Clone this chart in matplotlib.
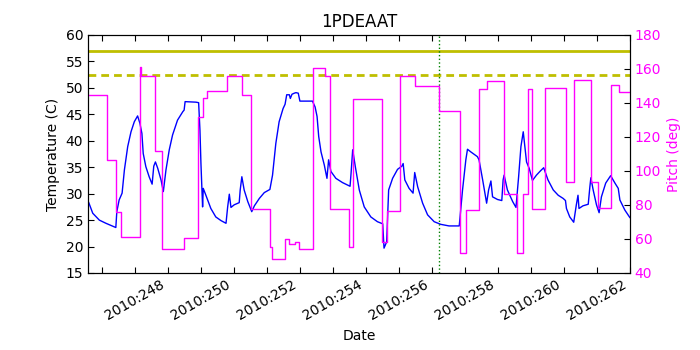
import matplotlib
matplotlib.use('Agg')
import matplotlib.pyplot as plt
import numpy as np

# 온도 (1PDEAAT) - 날짜(day of year), 값(C)
temp_days = [246.60, 246.72, 246.92, 247.12, 247.42, 247.45, 247.52, 247.58, 247.61, 247.68,
             247.78, 247.88, 247.98, 248.08, 248.15, 248.21, 248.25, 248.33, 248.43, 248.52,
             248.57, 248.62, 248.69, 248.79, 248.86, 248.94, 249.04, 249.14, 249.29, 249.45,
             249.49, 249.52, 249.85, 249.93, 249.97, 250.00, 250.05, 250.07, 250.15, 250.30,
             250.45, 250.61, 250.76, 250.81, 250.86, 250.91, 251.01, 251.16, 251.19, 251.24,
             251.31, 251.42, 251.54, 251.62, 251.77, 251.92, 252.09, 252.17, 252.27, 252.37,
             252.49, 252.55, 252.60, 252.68, 252.71, 252.76, 252.83, 252.88, 252.95, 253.00,
             253.36, 253.38, 253.46, 253.52, 253.57, 253.64, 253.74, 253.82, 253.87, 253.94,
             254.09, 254.29, 254.52, 254.55, 254.60, 254.68, 254.80, 254.95, 255.15, 255.35,
             255.51, 255.55, 255.63, 255.69, 255.81, 255.96, 256.09, 256.13, 256.18, 256.31,
             256.43, 256.48, 256.57, 256.72, 256.87, 257.07, 257.27, 257.52, 257.83, 257.93,
             258.03, 258.08, 258.18, 258.38, 258.43, 258.54, 258.66, 258.72, 258.79, 258.84,
             258.99, 259.12, 259.16, 259.19, 259.29, 259.45, 259.55, 259.63, 259.70, 259.77,
             259.87, 259.95, 260.05, 260.17, 260.29, 260.39, 260.52, 260.68, 260.83, 260.98,
             261.05, 261.08, 261.18, 261.30, 261.38, 261.43, 261.46, 261.58, 261.74, 261.79,
             261.82, 261.89, 261.99, 262.07, 262.14, 262.27, 262.42, 262.55, 262.65, 262.70,
             262.85, 263.00]
temp_vals = [28.3, 26.3, 25.0, 24.4, 23.6, 26.6, 28.8, 29.7, 30.1, 34.5,
             38.9, 41.7, 43.6, 44.7, 43.3, 41.4, 37.6, 35.1, 33.2, 31.8,
             35.2, 36.0, 34.8, 32.6, 30.4, 34.5, 38.3, 41.1, 43.9, 45.5,
             45.8, 47.4, 47.3, 47.2, 42.0, 35.7, 27.5, 31.0, 29.7, 27.2,
             25.6, 24.9, 24.4, 27.5, 29.9, 27.4, 27.9, 28.3, 30.7, 33.2,
             30.7, 28.5, 26.6, 27.7, 29.1, 30.2, 30.8, 33.5, 39.5, 43.6,
             46.1, 46.9, 48.7, 48.7, 48.0, 48.8, 49.0, 49.1, 49.0, 47.5,
             47.5, 47.5, 46.4, 44.6, 40.8, 37.9, 35.4, 32.9, 36.4, 34.2,
             32.9, 32.1, 31.4, 33.8, 38.3, 35.1, 30.7, 27.5, 25.6, 24.7,
             24.3, 19.7, 20.9, 30.7, 32.9, 34.6, 35.2, 35.7, 32.6, 31.0,
             30.1, 34.0, 31.3, 28.2, 26.0, 24.7, 24.2, 23.9, 23.9, 30.7,
             36.4, 38.4, 37.9, 37.0, 36.4, 32.6, 28.2, 30.7, 32.4, 29.4,
             28.9, 28.7, 32.6, 33.5, 30.7, 28.5, 27.4, 33.2, 38.9, 41.7,
             36.0, 34.8, 32.5, 33.5, 34.3, 34.9, 32.6, 30.7, 29.7, 29.1,
             28.7, 27.2, 25.6, 24.6, 27.9, 29.7, 27.2, 27.7, 28.0, 31.3,
             33.0, 30.7, 27.9, 26.4, 29.4, 32.0, 33.4, 32.0, 31.0, 28.8,
             26.9, 25.5]

# 피치 (계단형)
pitch_days = [246.58, 247.16, 247.42, 247.58, 248.16, 248.19, 248.61, 248.82, 249.48, 249.92,
              250.06, 250.19, 250.78, 251.25, 251.51, 252.09, 252.16, 252.55, 252.68, 252.85,
              252.97, 253.39, 253.76, 253.90, 254.49, 254.62, 255.50, 255.65, 256.03, 256.48,
              257.21, 257.84, 258.05, 258.43, 258.68, 259.19, 259.57, 259.77, 259.92, 260.05,
              260.43, 261.06, 261.31, 261.83, 262.04, 262.44, 262.67, 263.00]
pitch_vals = [144.7, 106.5, 75.7, 61.0, 161.0, 155.9, 112.0, 54.0, 60.8, 131.6,
              143.1, 147.0, 155.9, 144.5, 77.8, 55.1, 48.0, 59.8, 56.9, 58.2,
              54.0, 160.8, 155.9, 77.8, 55.1, 142.4, 58.4, 76.6, 155.9, 150.2,
              135.5, 51.6, 77.0, 148.0, 153.0, 86.3, 51.6, 86.3, 148.2, 77.5,
              148.6, 93.7, 153.3, 93.7, 78.0, 150.6, 146.7, 146.7]

limit_yellow = 57.0
limit_planning = 52.5
now_day = 257.21

tick_days = list(range(247, 264))
label_days = list(range(248, 264, 2))

fig = plt.figure(figsize=(7, 3.5), dpi=100)
ax1 = fig.add_axes([0.1257, 0.22, 0.774, 0.68])
ax2 = ax1.twinx()

ax1.plot(temp_days, temp_vals, color='b', linewidth=1)
ax1.axhline(limit_yellow, color=(0.75, 0.75, 0), linewidth=2)
ax1.axhline(limit_planning, color=(0.75, 0.75, 0), linewidth=2, linestyle='--', dashes=(2.8, 1.8))
ax1.axvline(now_day, color='g', linestyle=':', linewidth=1)

ax2.plot(pitch_days, pitch_vals, color='magenta', linewidth=1, drawstyle='steps-post')

ax1.set_xlim(246.576, 263.0)
ax1.set_ylim(15, 60)
ax2.set_ylim(40, 180)

ax1.set_xticks(tick_days)
ax1.set_xticklabels(['2010:%d' % d if d in label_days else '' for d in tick_days],
                    rotation=30, ha='center')
ax1.set_yticks(range(15, 61, 5))
ax2.set_yticks(range(40, 181, 20))

ax1.tick_params(direction='in', top=True, length=4)
ax1.tick_params(axis='y', right=False)
ax2.tick_params(direction='in', length=4, colors='magenta')
ax2.tick_params(axis='y', labelcolor='magenta', color='k')

ax1.set_title('1PDEAAT', fontsize=12)
ax1.set_xlabel('Date')
ax1.set_ylabel('Temperature (C)')
ax2.set_ylabel('Pitch (deg)', color='magenta')

fig.savefig('out.png', dpi=100)
